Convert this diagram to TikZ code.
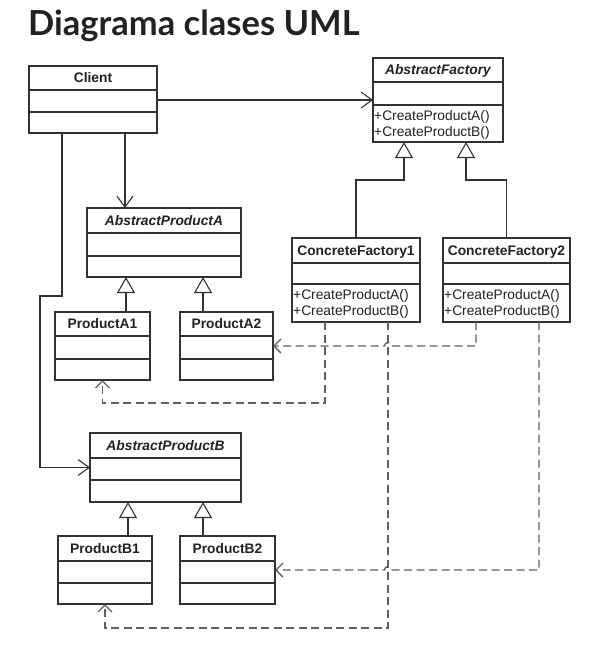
\documentclass[tikz,border=0pt]{standalone}
\usepackage{fontspec}
\setmainfont{Liberation Sans}
\newfontfamily\latofont{Lato}
\usetikzlibrary{arrows.meta}
\definecolor{ink}{HTML}{222222}
\definecolor{boxline}{HTML}{333333}
\definecolor{dashc}{HTML}{606060}
\tikzset{
 classbox/.style={draw=boxline, line width=1.2pt, inner sep=0pt, outer sep=0pt, fill=white},
 sepline/.style={draw=boxline, line width=1.2pt},
 nametext/.style={font=\fontsize{13.8}{16}\selectfont\bfseries, text=ink, inner sep=0pt, anchor=base},
 absttext/.style={nametext, font=\fontsize{13.8}{16}\selectfont\bfseries\itshape},
 optext/.style={font=\fontsize{13.8}{16}\selectfont, text=ink, inner sep=0pt, anchor=base west},
 assoc/.style={draw=boxline, line width=1.1pt, -{Straight Barb[length=11pt,width=16pt]}},
 inherit/.style={draw=boxline, line width=1.1pt, -{Triangle[open,length=16pt,width=18pt]}},
 depend/.style={draw=dashc, line width=1.4pt, dash pattern=on 8pt off 4.5pt, -{Straight Barb[length=7pt,width=14pt]}},
}
% #1 name, #2 x1, #3 y1, #4 x2, #5 y2, #6 sep1, #7 sep2, #8 title style, #9 title
\newcommand\umlclass[9]{%
 \pgfmathsetmacro\ucw{#4-#2}\pgfmathsetmacro\uch{#5-#3}%
 \node[classbox, anchor=north west, minimum width=\ucw pt, minimum height=\uch pt] (#1) at (#2,#3) {};
 \draw[sepline] (#2,#6) -- (#4,#6) (#2,#7) -- (#4,#7);
 \node[#8] (#1-name) at ({(#2+#4)/2},{(#3+#6)/2+4.8}) {#9};
}
\begin{document}
\begin{tikzpicture}[x=1pt,y=-1pt]
\useasboundingbox (0,0) rectangle (609,654);
\node[font=\latofont\bfseries\fontsize{34.5}{40}\selectfont, text=ink, anchor=base west, inner sep=0pt] (title) at (28,35) {Diagrama clases UML};

\umlclass{client}{29}{66}{157}{133}{90}{112}{nametext}{Client}
\umlclass{af}{373}{58}{503}{142}{82}{105}{absttext}{AbstractFactory}
\node[optext] (af-opa) at (374,120) {+CreateProductA()};
\node[optext] (af-opb) at (374,136) {+CreateProductB()};
\umlclass{cf1}{292}{238}{420}{322}{263}{284}{nametext}{ConcreteFactory1}
\node[optext] (cf1-opa) at (293,299.5) {+CreateProductA()};
\node[optext] (cf1-opb) at (293,315.5) {+CreateProductB()};
\umlclass{cf2}{443}{238}{570}{322}{263}{284}{nametext}{ConcreteFactory2}
\node[optext] (cf2-opa) at (444,299.5) {+CreateProductA()};
\node[optext] (cf2-opb) at (444,315.5) {+CreateProductB()};
\umlclass{apa}{87}{208}{241}{277}{233}{256}{absttext}{AbstractProductA}
\umlclass{pa1}{55}{312}{150}{380}{336}{359}{nametext}{ProductA1}
\umlclass{pa2}{180}{312}{273}{380}{336}{359}{nametext}{ProductA2}
\umlclass{apb}{90}{433}{241}{502}{458}{480}{absttext}{AbstractProductB}
\umlclass{pb1}{58}{536}{152}{604}{561}{583}{nametext}{ProductB1}
\umlclass{pb2}{180}{536}{275}{604}{561}{583}{nametext}{ProductB2}

% attach points
\coordinate (cdA) at (125,133);
\coordinate (cdB) at (62,133);
\coordinate (afA) at (404,142);
\coordinate (afB) at (466,142);
\coordinate (apaA) at (126,277);
\coordinate (apaB) at (203,277);
\coordinate (apbA) at (128,502);
\coordinate (apbB) at (203,502);
\coordinate (c1a) at (325,322);
\coordinate (c1b) at (388,322);
\coordinate (c2a) at (476,322);
\coordinate (c2b) at (539,322);

% associations
\draw[assoc] (client.east |- af.west) -- (af.west);
\draw[assoc] (cdA) -- (cdA |- apa.north);
\draw[assoc] (cdB) -- (62,296) -- (40,296) |- (apb.west);

% generalizations
\draw[inherit] (cf1.north) -- ++(0,-58) -| (afA);
\draw[inherit] (cf2.north) -- ++(0,-58) -| (afB);
\draw[inherit] (apaA |- pa1.north) -- (apaA);
\draw[inherit] (apaB |- pa2.north) -- (apaB);
\draw[inherit] (apbA |- pb1.north) -- (apbA);
\draw[inherit] (apbB |- pb2.north) -- (apbB);

% dependencies
\draw[depend] (c1a) -- ++(0,81) -| (pa1.south);
\draw[depend] (c1b) -- ++(0,306) -| (pb1.south);
\draw[depend] (c2a) -- (c2a |- pa2.east) -- (391.5,346) arc[start angle=0,end angle=-180,radius=3.5] -- (pa2.east);
\draw[depend] (c2b) -- (c2b |- pb2.east) -- (391.5,570) arc[start angle=0,end angle=-180,radius=3.5] -- (pb2.east);
\end{tikzpicture}
\end{document}
